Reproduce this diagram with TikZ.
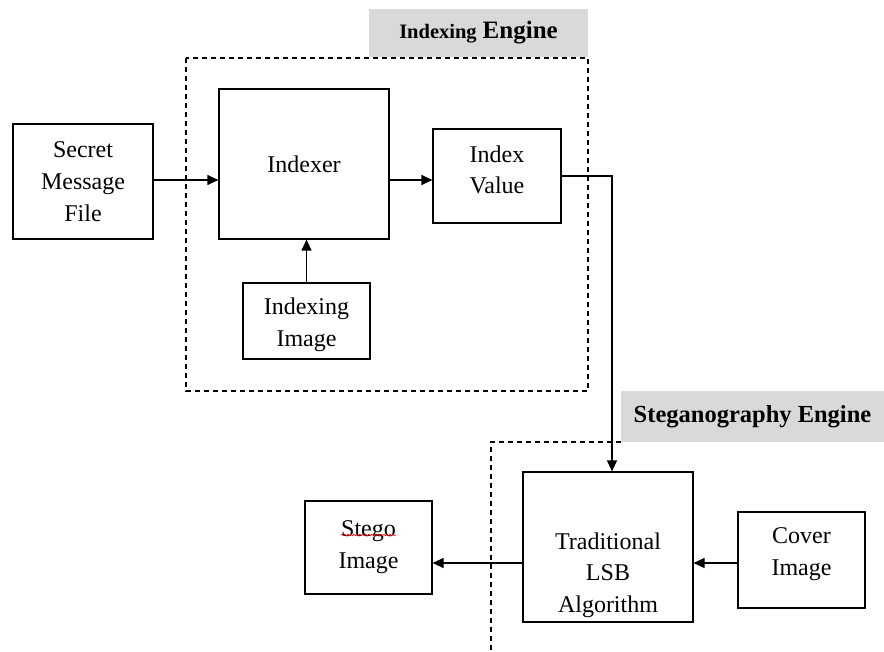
\documentclass[tikz,border=0pt]{standalone}
\usepackage{fontspec}
\setmainfont{Liberation Serif}
\usetikzlibrary{arrows.meta,decorations.pathmorphing}
\definecolor{hdrgray}{HTML}{D9D9D9}
\begin{document}
\begin{tikzpicture}[x=1pt,y=-1pt,
  box/.style={draw, line width=1.2pt, inner sep=0pt, align=center,
    font=\fontsize{24}{32}\selectfont},
  txt/.style={inner sep=0pt, align=center, font=\fontsize{24}{31.5}\selectfont},
  conn/.style={line width=1.2pt, -{Triangle[length=11pt,width=10pt]}},
  frame/.style={line width=1.1pt, dash pattern=on 5pt off 4pt},
  hdr/.style={fill=hdrgray, inner sep=0pt}]
\useasboundingbox (0,0) rectangle (884,652);

% frames
\draw[frame] (186,58) rectangle (588,391);
\node[hdr, minimum width=219pt, minimum height=48pt] (hdr1) at (478.5,33)
  {\raisebox{-3pt}{\bfseries{\fontsize{20.5}{24}\selectfont Indexing}\hspace{6pt}{\fontsize{25}{30}\selectfont Engine}}};
\coordinate (f2a) at (621,442);
\coordinate (f2b) at (491,442);
\coordinate (f2c) at (491,652);
\draw[frame] (f2a) -- (f2b) -- (f2c);
\node[hdr, minimum width=263pt, minimum height=51pt] (hdr2) at (752.5,416.5)
  {\bfseries\fontsize{24.5}{30}\selectfont Steganography Engine};

% boxes
\node[box, minimum width=140pt, minimum height=115pt] (secret) at (83,181.5) {Secret\\Message\\File};
\node[box, minimum width=170pt, minimum height=150pt] (indexer) at (304,164) {Indexer};
\node[box, minimum width=128pt, minimum height=94pt] (indexval) at (497,176) {};
\node[txt] (indexvaltext) at (497,170) {Index\\Value};
\node[box, minimum width=127pt, minimum height=76pt] (idximg) at (306.5,321) {};
\node[txt] (idximgtext) at (306.5,325) {Indexing\\Image};
\node[box, minimum width=170pt, minimum height=150pt] (trad) at (608,547) {};
\node[txt] (tradtext) at (608,575) {Traditional\\LSB\\Algorithm};
\node[box, minimum width=127pt, minimum height=96pt] (cover) at (801.5,560) {};
\node[txt] (covertext) at (801.5,554) {Cover\\Image};
\node[box, minimum width=127pt, minimum height=93pt] (stego) at (368.5,547.5) {Stego\\Image};
\draw[red, line width=0.6pt, decorate, decoration={snake, amplitude=0.8pt, segment length=3pt}]
  (341,535) -- (396,535);

% connectors
\coordinate (r180) at (0,180);
\coordinate (r563) at (0,563);
\draw[conn] (secret.east |- r180) -- (indexer.west |- r180);
\draw[conn] (indexer.east |- r180) -- (indexval.west |- r180);
\draw[conn] (idximg.north) -- (indexer.south -| idximg.north);
\draw[conn] (indexval.east) -| ([xshift=4pt]trad.north);
\draw[conn] (cover.west |- r563) -- (trad.east |- r563);
\draw[conn] (trad.west |- r563) -- (stego.east |- r563);
\end{tikzpicture}
\end{document}
